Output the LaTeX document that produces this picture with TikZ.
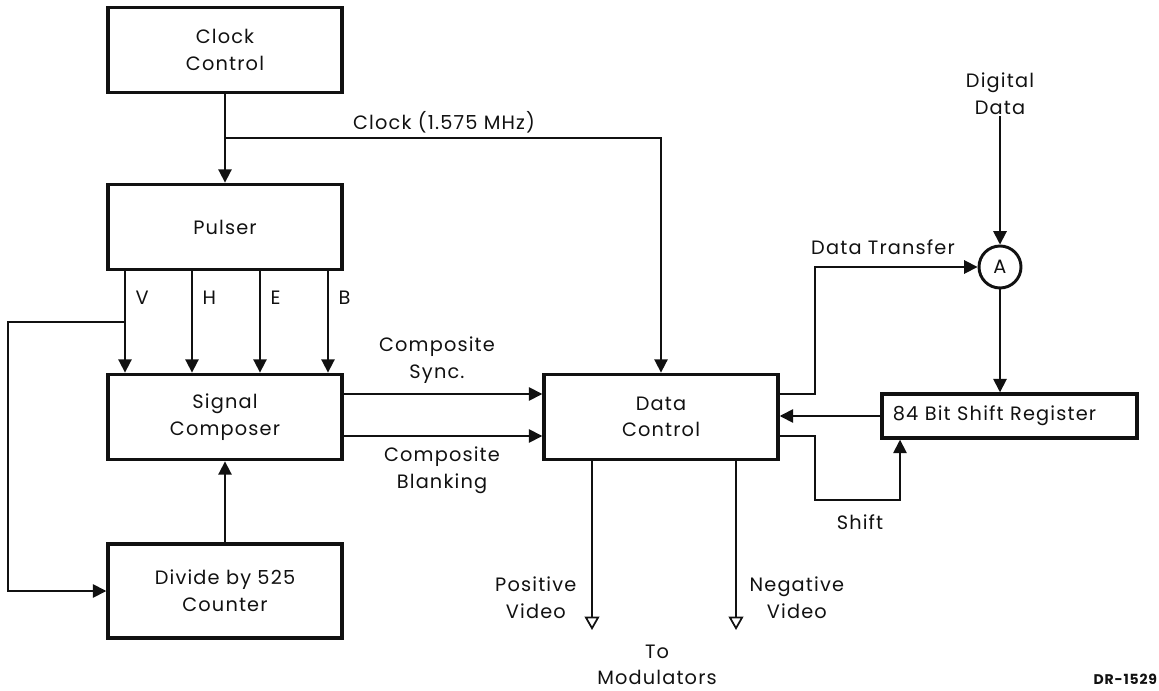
\documentclass[tikz,border=0pt]{standalone}
\usepackage{fontspec}
\setmainfont[LetterSpace=6]{Poppins}
\usetikzlibrary{arrows.meta}
\definecolor{inkblack}{HTML}{111111}
\newcommand{\blocktext}{\fontsize{14.5}{20}\selectfont}
\newcommand{\tagtext}{\fontsize{10.5}{12}\selectfont\bfseries}

\begin{document}
\begin{tikzpicture}[x=0.75pt,y=-0.75pt,font=\blocktext,color=inkblack,
  block/.style={draw,line width=2.6pt,minimum width=175.5pt,minimum height=64pt,align=center},
  junction/.style={draw,circle,line width=2.2pt,minimum size=31.5pt,inner sep=0pt},
  lbl/.style={inner sep=1pt,align=center},
  conn/.style={line width=1.3pt,-{Triangle[length=10pt,width=10pt]}},
  outarrow/.style={line width=1.3pt,-{Triangle[open,length=10pt,width=11pt,line width=1.3pt]}}]
\useasboundingbox (0,0) rectangle (1159,691);

\node[block] (clockctl) at (225,50) {Clock\\Control};
\node[block] (pulser) at (225,227) {Pulser};
\node[block] (sigcomp) at (225,417) {Signal\\Composer};
\node[block,minimum height=70.5pt] (divider) at (225,591) {Divide by 525\\Counter};
\node[block] (datactl) at (661,417) {Data\\Control};
\node[block,minimum width=0pt,minimum height=33pt,text width=175pt,inner xsep=8pt,align=left] (shiftreg) at (1009.5,416) {84 Bit Shift Register};
\node[junction] (gateA) at (1000,267) {A};

\node[lbl] (clocklbl) at (444,122) {Clock (1.575 MHz)};
\node[lbl] (synclbl) at (437,360) {Composite\\Sync.};
\node[lbl] (blanklbl) at (442,470) {Composite\\Blanking};
\node[lbl] (xferlbl) at (883,247) {Data Transfer};
\node[lbl] (digdata) at (1000,94) {Digital\\Data};
\node[lbl] (shiftlbl) at (860,522) {Shift};
\node[lbl,anchor=east] (poslbl) at (578,598) {Positive\\Video};
\node[lbl,anchor=west] (neglbl) at (748,598) {Negative\\Video};
\node[lbl] (modlbl) at (657,665) {To\\Modulators};
\node[lbl,anchor=west,font=\tagtext] (drawno) at (1092,679) {DR-1529};

\coordinate (clocktap) at (clockctl.south |- 0,138);
\coordinate (vtap) at (125,322);
\coordinate (vturn) at (8,322);
\coordinate (xferturn) at (815,394);
\coordinate (shiftturn) at (815,500);
\coordinate (posout) at (592,630);
\coordinate (negout) at (736,630);

\draw[conn] (clockctl) -- (pulser);
\draw[conn] (clocktap) -| (datactl.north);
\foreach \sx/\sig in {125/V,192/H,260/E,328/B}{
  \draw[conn] (pulser.south -| \sx,0) -- (sigcomp.north -| \sx,0);
  \node[lbl,anchor=west] (lbl\sig) at (\sx+9,298) {\sig};
}
\draw[conn] (vtap) -- (vturn) |- (divider.west);
\draw[conn] (divider) -- (sigcomp);
\draw[conn] (sigcomp.east |- 0,394) -- (datactl.west |- 0,394);
\draw[conn] (sigcomp.east |- 0,436) -- (datactl.west |- 0,436);
\draw[conn] (datactl.east |- 0,394) -- (xferturn) |- (gateA.west);
\draw[conn] (digdata) -- (gateA);
\draw[conn] (gateA) -- (gateA |- shiftreg.north);
\draw[conn] (shiftreg.west) -- (shiftreg.west -| datactl.east);
\draw[conn] (datactl.east |- 0,436) -| (shiftturn) -| (shiftreg.south -| 900,0);
\draw[outarrow] (datactl.south -| posout) -- (posout);
\draw[outarrow] (datactl.south -| negout) -- (negout);
\end{tikzpicture}
\end{document}
